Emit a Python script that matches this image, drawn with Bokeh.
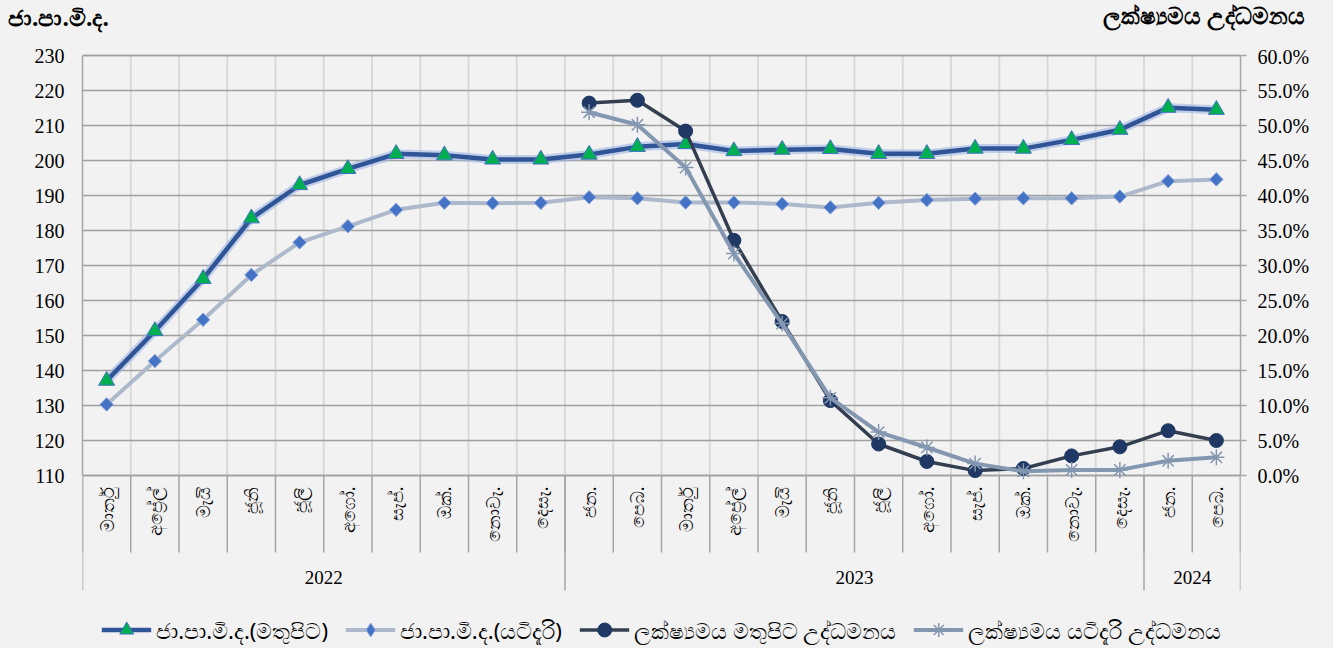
import numpy as np
from bokeh.plotting import figure
from bokeh.models import (Range1d, LinearAxis, FixedTicker, PrintfTickFormatter,
                          Legend, LegendItem, ColumnDataSource, Div)
from bokeh.layouts import column
from bokeh.core.properties import value
from bokeh.embed import file_html
from bokeh.resources import INLINE

# ---------------- data ----------------
months = ["මාර්තු", "අප්‍රේල්", "මැයි", "ජූනි", "ජූලි", "අගෝ.", "සැප්.", "ඔක්.", "නොවැ.", "දෙසැ.",
          "ජන.", "පෙබ.", "මාර්තු", "අප්‍රේල්", "මැයි", "ජූනි", "ජූලි", "අගෝ.", "සැප්.", "ඔක්.", "නොවැ.", "දෙසැ.",
          "ජන.", "පෙබ."]
years = ["2022"] * 10 + ["2023"] * 12 + ["2024"] * 2

ncpi_headline = [137.1, 151.3, 166.2, 183.5, 193.0, 197.6, 201.9, 201.5, 200.3, 200.3,
                 201.7, 203.9, 204.7, 202.7, 203.1, 203.3, 201.9, 201.9, 203.4, 203.4, 205.9, 208.8,
                 215.1, 214.5]
ncpi_core = [130.3, 142.7, 154.5, 167.3, 176.6, 181.2, 185.9, 187.9, 187.8, 187.9,
             189.5, 189.2, 188.0, 188.0, 187.6, 186.6, 187.9, 188.7, 189.1, 189.2, 189.2, 189.7,
             194.1, 194.6]
nan = float("nan")
infl_headline = [nan] * 10 + [53.2, 53.6, 49.2, 33.6, 22.0, 10.7, 4.5, 2.0, 0.7, 1.0, 2.8, 4.1, 6.4, 5.0]
infl_core = [nan] * 10 + [51.9, 50.1, 44.0, 31.7, 21.7, 11.1, 6.2, 4.0, 1.7, 0.6, 0.8, 0.8, 2.1, 2.6]

left_ticks = [110, 120, 130, 140, 150, 160, 170, 180, 190, 200, 210, 220, 230]
right_ticks = [0, 5, 10, 15, 20, 25, 30, 35, 40, 45, 50, 55, 60]

left_title = "ජා.පා.මි.ද."
right_title = "ලක්ෂ්‍යමය උද්ධමනය"
legend_labels = ["ජා.පා.මි.ද.(මතුපිට)", "ජා.පා.මි.ද.(යටිදැරි)",
                 "ලක්ෂ්‍යමය මතුපිට උද්ධමනය", "ලක්ෂ්‍යමය යටිදැරි උද්ධමනය"]

# ---------------- layout constants (pixels) ----------------
W, H = 1333, 648
HDR_H = 45            # header strip with the two titles
FRAME_LEFT, FRAME_RIGHT = 82, 1240
PLOT_TOP, PLOT_BOTTOM = 55, 475   # pixel rows of the top and bottom ticks
BG = "#f2f2f2"
NUM_FONT = "Liberation Serif"
SIN_FONT = "Noto Sans"
C_NCPI = "#2F5597"
C_CORE = "#ADB9CA"
C_HI = "#333F50"
C_CI = "#8497B0"
GRID_H = "#a0a0a0"
GRID_V = "#d9d9d9"
SEP = "#a6a6a6"

n = len(months)
xs = np.arange(n) + 0.5
boundaries = list(range(n + 1))

lo, hi = left_ticks[0], left_ticks[-1]
rlo, rhi = right_ticks[0], right_ticks[-1]
ppu = (PLOT_BOTTOM - PLOT_TOP) / (hi - lo)          # pixels per left unit
rppu = (PLOT_BOTTOM - PLOT_TOP) / (rhi - rlo)       # pixels per right unit
above_px = PLOT_TOP - HDR_H
below_px = H - PLOT_BOTTOM


def ly(px_below):  # left-axis data value for a pixel distance below the bottom tick
    return lo - px_below / ppu


src = ColumnDataSource(dict(x=xs, ncpi=ncpi_headline, core=ncpi_core,
                            hi=infl_headline, ci=infl_core))

p = figure(width=W, height=H - HDR_H, x_range=Range1d(0, n),
           y_range=Range1d(ly(below_px), hi + above_px / ppu),
           x_axis_location=None, output_backend="svg", toolbar_location=None,
           min_border_left=FRAME_LEFT, min_border_right=W - FRAME_RIGHT,
           min_border_top=0, min_border_bottom=0)
p.background_fill_color = BG
p.border_fill_color = BG
p.outline_line_color = None

p.extra_y_ranges = {"pct": Range1d(rlo - below_px / rppu, rhi + above_px / rppu)}
rax = LinearAxis(y_range_name="pct", ticker=FixedTicker(ticks=right_ticks),
                 formatter=PrintfTickFormatter(format="%.1f%%"), bounds=(rlo, rhi))
p.add_layout(rax, "right")

lax = p.yaxis[0]
lax.ticker = FixedTicker(ticks=left_ticks)
lax.bounds = (lo, hi)
for ax in (lax, rax):
    ax.axis_line_color = SEP
    ax.axis_line_width = 1.5
    ax.major_tick_line_color = SEP
    ax.major_tick_line_width = 1.5
    ax.minor_tick_line_color = None
    ax.major_tick_in = 0
    ax.major_label_text_font = NUM_FONT
    ax.major_label_text_font_size = "20px"
    ax.major_label_text_color = "#000000"
lax.major_tick_out = 0
lax.major_label_standoff = 18
rax.major_tick_out = 6
rax.major_label_standoff = 11

p.xgrid.visible = False
p.ygrid.grid_line_color = GRID_H
p.ygrid.grid_line_width = 1.5
p.ygrid.ticker = FixedTicker(ticks=left_ticks)

# vertical grid lines between categories (plot area only)
inner = boundaries[1:-1]
p.segment(x0=inner, y0=[lo] * len(inner), x1=inner, y1=[hi] * len(inner),
          line_color=GRID_V, line_width=2, level="underlay")
# top gridline (range end) and category axis line
p.segment(x0=[0, 0], y0=[hi, lo], x1=[n, n], y1=[hi, lo], line_color=GRID_H, line_width=1.5,
          level="underlay")

# category separators
p.segment(x0=boundaries, y0=[lo] * len(boundaries), x1=boundaries, y1=[ly(77)] * len(boundaries),
          line_color=SEP, line_width=1.5)
year_bounds = [0] + [i for i in range(1, n) if years[i] != years[i - 1]] + [n]
p.segment(x0=year_bounds, y0=[lo] * len(year_bounds), x1=year_bounds,
          y1=[ly(115)] * len(year_bounds), line_color=SEP, line_width=1.5)

p.text(x=xs, y=[ly(11)] * n, text=months, angle=np.pi / 2, text_align="right",
       text_baseline="middle", text_font=value(SIN_FONT), text_font_size="18px",
       text_color="#000000")
yl, yc = [], []
for a, b in zip(year_bounds[:-1], year_bounds[1:]):
    yl.append(years[a])
    yc.append((a + b) / 2)
p.text(x=yc, y=[ly(102)] * len(yc), text=yl, text_align="center", text_baseline="middle",
       text_font=value(NUM_FONT), text_font_size="19px", text_color="#000000")

# series
p.line("x", "ncpi", source=src, color="#9FB6E2", line_width=9, line_alpha=0.6)
l1 = p.line("x", "ncpi", source=src, color=C_NCPI, line_width=4.5)
m1 = p.scatter("x", "ncpi", source=src, marker="triangle", size=16,
               fill_color="#00B050", line_color="#4472C4", line_width=1)
l2 = p.line("x", "core", source=src, color=C_CORE, line_width=4)
# diamond glyph (hidden under the rotated square in the plot, used by the legend)
m2d = p.scatter("x", "core", source=src, marker="diamond", size=13,
                fill_color="#4472C4", line_color="#8FAADC", line_width=1)
m2 = p.scatter("x", "core", source=src, marker="square", angle=np.pi / 4, size=9.5,
               fill_color="#4472C4", line_color="#8FAADC", line_width=1)
l3 = p.line("x", "hi", source=src, y_range_name="pct", color=C_HI, line_width=3.5)
m3 = p.scatter("x", "hi", source=src, y_range_name="pct", marker="circle", size=14,
               fill_color="#1F3864", line_color="#1F3864")
l4 = p.line("x", "ci", source=src, y_range_name="pct", color=C_CI, line_width=4)
m4 = p.scatter("x", "ci", source=src, y_range_name="pct", marker="asterisk", size=16,
               line_color=C_CI, line_width=1.5)

legend = Legend(items=[LegendItem(label=legend_labels[0], renderers=[l1, m1]),
                       LegendItem(label=legend_labels[1], renderers=[l2, m2d]),
                       LegendItem(label=legend_labels[2], renderers=[l3, m3]),
                       LegendItem(label=legend_labels[3], renderers=[l4, m4])],
                orientation="horizontal", location="bottom_center",
                label_text_font=SIN_FONT, label_text_font_size="22px", label_text_color="#000000",
                glyph_width=50, glyph_height=35, label_standoff=5, spacing=17,
                background_fill_alpha=0, border_line_color=None, margin=1, padding=0)
p.add_layout(legend)

# ---------------- header with the two axis titles ----------------
span_css = ("position:absolute;font-family:'{f}';font-weight:bold;font-size:23px;"
            "line-height:26px;color:#000;white-space:nowrap;").format(f=SIN_FONT)
hdr_html = (f'<div style="position:relative;width:{W}px;height:{HDR_H}px;margin:0;padding:0;">'
            f'<span style="{span_css}left:8px;top:4px;">{left_title}</span>'
            f'<span style="{span_css}right:{W - 1305}px;top:2px;">{right_title}</span>'
            f'</div>')
hdr = Div(text=hdr_html, width=W, height=HDR_H, margin=0, styles={"background-color": BG})

layout = column(hdr, p, spacing=0)
html = file_html(layout, INLINE)
html = html.replace("</head>", "<style>body{background:#f2f2f2;}</style></head>", 1)
open("out.html", "w").write(html)
